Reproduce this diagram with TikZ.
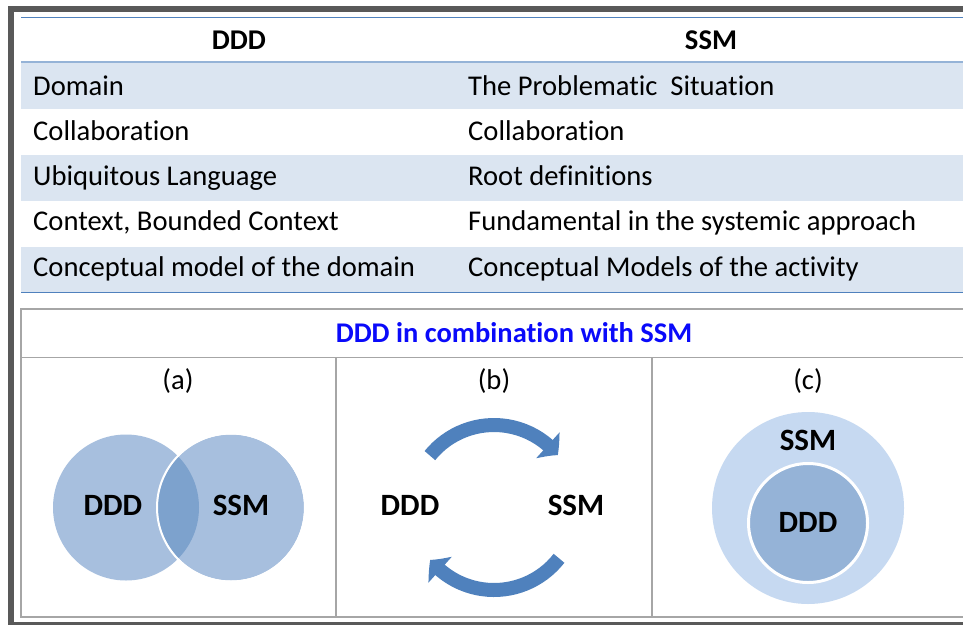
\documentclass[tikz,border=0pt]{standalone}
\usepackage{fontspec}
\setmainfont{Carlito}[Ligatures=NoCommon]
\usepackage{xcolor}
\usetikzlibrary{arrows.meta,bending}

\definecolor{framegray}{RGB}{89,89,89}
\definecolor{rulegray}{RGB}{166,166,166}
\definecolor{tableblue}{RGB}{79,129,189}
\definecolor{headblue}{RGB}{149,179,215}
\definecolor{rowshade}{RGB}{219,229,241}
\definecolor{vennblue}{RGB}{167,191,222}
\definecolor{vennmid}{RGB}{125,162,205}
\definecolor{cycleblue}{RGB}{79,129,189}
\definecolor{outerblue}{RGB}{198,217,241}
\definecolor{innerblue}{RGB}{149,179,215}
\definecolor{titleblue}{RGB}{10,10,250}

\tikzset{
    cell/.style={anchor=base west, inner sep=0pt, font=\fontsize{28.6}{34}\selectfont},
    head/.style={anchor=base, inner sep=0pt, font=\fontsize{28.6}{34}\selectfont\bfseries},
    panel/.style={anchor=base, inner sep=0pt, font=\fontsize{28.6}{34}\selectfont},
    bigtag/.style={anchor=base, inner sep=0pt, font=\fontsize{31}{37}\selectfont\bfseries},
    cyclearrow/.style={cycleblue, line width=14pt, -{Triangle[length=14pt,width=34pt,bend]}}
}

\begin{document}
\begin{tikzpicture}[x=1pt, y=-1pt]

        \useasboundingbox (0,0) rectangle (963,624);
        \fill[white] (0,0) rectangle (963,624);
        \clip (0,0) rectangle (963,624);

        % Outer frame
        \draw[framegray, line width=6pt] (11,9) rectangle (990,625);

        % Comparison table
        \fill[rowshade] (21,62) rectangle (990,108.5);
        \fill[rowshade] (21,155) rectangle (990,201);
        \fill[rowshade] (21,246.5) rectangle (990,292.5);
        \draw[tableblue, line width=1pt] (21,17) -- (990,17);
        \draw[headblue, line width=2pt] (21,62) -- (990,62);
        \draw[tableblue, line width=1pt] (21,292.5) -- (990,292.5);

        \node[head] (DDDHead) at (239,49.3) {DDD};
        \node[head] (SSMHead) at (711,49.3) {SSM};

        \node[cell] (DDDDomain) at (33,95) {Domain};
        \node[cell] (SSMDomain) at (468,95) {The Problematic~ Situation};
        \node[cell] (DDDCollab) at (33,140.7) {Collaboration};
        \node[cell] (SSMCollab) at (468,140.7) {Collaboration};
        \node[cell] (DDDLanguage) at (33,185) {Ubiquitous Language};
        \node[cell] (SSMLanguage) at (468,185) {Root definitions};
        \node[cell] (DDDContext) at (33,230.7) {Context, Bounded Context};
        \node[cell] (SSMContext) at (468,230.7) {Fundamental in the systemic approach};
        \node[cell] (DDDModel) at (33,276.7) {Conceptual model of the domain};
        \node[cell] (SSMModel) at (468,276.7) {Conceptual Models of the activity};

        % Combination box
        \draw[rulegray, line width=1.3pt] (21,309) rectangle (968,617);
        \draw[rulegray, line width=1.3pt] (21,357.5) -- (968,357.5);
        \draw[rulegray, line width=1.3pt] (336,357.5) -- (336,617);
        \draw[rulegray, line width=1.3pt] (652,357.5) -- (652,617);
        \node[anchor=base, inner sep=0pt, text=titleblue, font=\fontsize{28.5}{34}\selectfont\bfseries]
            (ComboTitle) at (514,342.3) {DDD in combination with SSM};

        \node[panel] (TagA) at (178,389) {(a)};
        \node[panel] (TagB) at (494,389) {(b)};
        \node[panel] (TagC) at (808,389) {(c)};

        % (a) overlapping circles
        \fill[vennblue] (126,507.5) circle[radius=73];
        \fill[vennblue] (231,507.5) circle[radius=73];
        \begin{scope}
            \clip (126,507.5) circle[radius=73];
            \fill[vennmid] (231,507.5) circle[radius=73];
        \end{scope}
        \draw[white, line width=2pt] (231,507.5) circle[radius=74];
        \node[bigtag] (VennDDD) at (113,515) {DDD};
        \node[bigtag] (VennSSM) at (241,515) {SSM};

        % (b) cycle
        \coordinate (CycleCenter) at (494,507.5);
        \draw[cyclearrow] (CycleCenter) ++(219:82.5) arc[start angle=219, end angle=320.6, radius=82.5];
        \draw[cyclearrow] (CycleCenter) ++(38:82.5) arc[start angle=38, end angle=140.6, radius=82.5];
        \node[bigtag] (CycleDDD) at (410,515) {DDD};
        \node[bigtag] (CycleSSM) at (576,515) {SSM};

        % (c) nested circles
        \fill[outerblue] (808,508) circle[radius=96];
        \draw[white, line width=3pt, fill=innerblue] (808,523) circle[radius=59.5];
        \node[bigtag] (NestSSM) at (808,450) {SSM};
        \node[bigtag] (NestDDD) at (808,532) {DDD};
    \end{tikzpicture}
\end{document}
